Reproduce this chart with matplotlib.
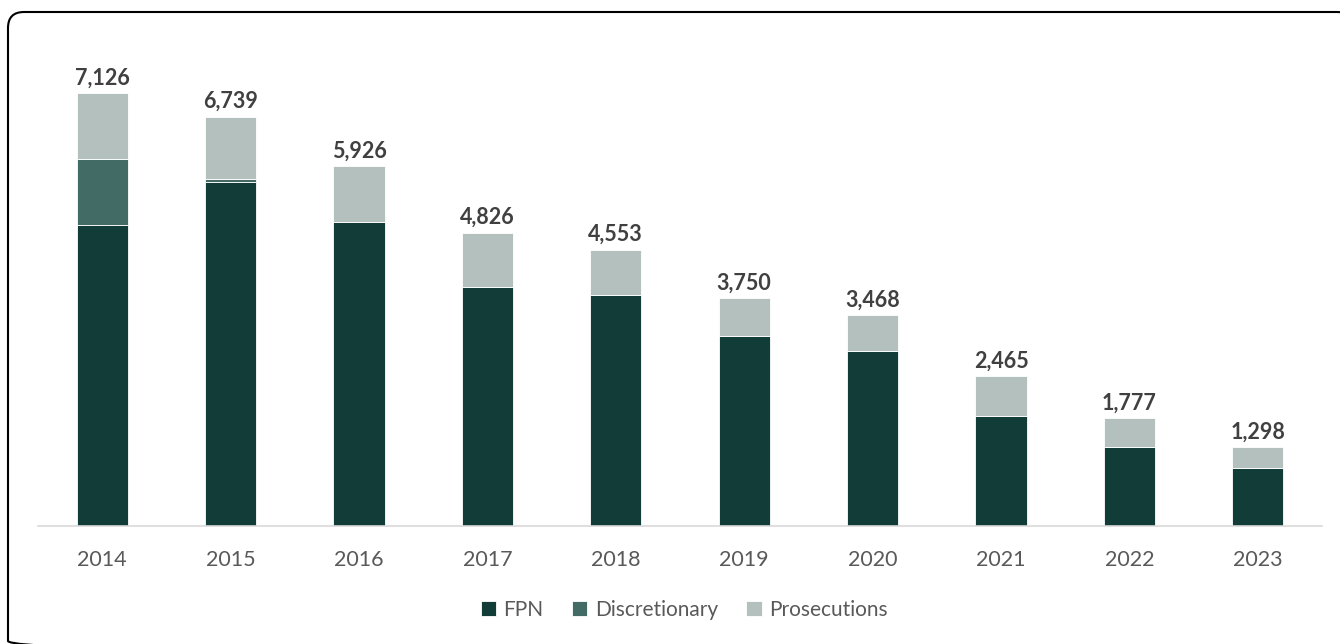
import matplotlib.pyplot as plt
from matplotlib.patches import FancyBboxPatch
import numpy as np

years = ['2014', '2015', '2016', '2017', '2018', '2019', '2020', '2021', '2022', '2023']
fpn = [4962, 5662, 5007, 3941, 3800, 3134, 2877, 1817, 1296, 955]
discretionary = [1082, 56, 0, 0, 0, 0, 0, 0, 0, 0]
prosecutions = [1082, 1021, 919, 885, 753, 616, 591, 648, 481, 343]
totals = [7126, 6739, 5926, 4826, 4553, 3750, 3468, 2465, 1777, 1298]

plt.rcParams['font.family'] = ['Lato', 'DejaVu Sans']

fig = plt.figure(figsize=(13.4, 6.44), dpi=100)
ax = fig.add_axes([38 / 1340, 1 - 526 / 644, 1284 / 1340, 450 / 644])

x = np.arange(len(years))
w = 0.4
c_fpn, c_disc, c_pros = '#113c37', '#436b66', '#b3c0be'
fpn = np.array(fpn)
disc = np.array(discretionary)
pros = np.array(prosecutions)

ax.bar(x, fpn, w, color=c_fpn, edgecolor='white', linewidth=0.6, label='FPN')
ax.bar(x, disc, w, bottom=fpn, color=c_disc, edgecolor='white', linewidth=0.6, label='Discretionary')
ax.bar(x, pros, w, bottom=fpn + disc, color=c_pros, edgecolor='white', linewidth=0.6, label='Prosecutions')

for xi, t in zip(x, totals):
    ax.text(xi, t + 80, f'{t:,}', ha='center', va='bottom', fontsize=15.5,
            fontweight='bold', color='#404040')

ax.set_xlim(-0.5, 9.5)
ax.set_ylim(0, 7126 * 450 / 432.7)
ax.set_xticks(x)
ax.set_xticklabels(years, fontsize=15.5, color='#595959')
ax.tick_params(axis='x', length=0, pad=17)
ax.set_yticks([])
for s in ['top', 'right', 'left']:
    ax.spines[s].set_visible(False)
ax.spines['bottom'].set_color('#d9d9d9')
ax.spines['bottom'].set_linewidth(1.2)

leg = fig.legend(loc='center', bbox_to_anchor=(684 / 1340, 1 - 610 / 644), ncol=3,
                 frameon=False, fontsize=15, handlelength=0.75, handleheight=0.75,
                 handletextpad=0.35, columnspacing=1.35)
for t in leg.get_texts():
    t.set_color('#595959')

# rounded frame, drawn in pixel units on an overlay axes
frame_ax = fig.add_axes([0, 0, 1, 1], zorder=-1)
frame_ax.set_xlim(0, 1340)
frame_ax.set_ylim(644, 0)
frame_ax.axis('off')
frame_ax.add_patch(FancyBboxPatch((8, 12), 1345, 645,
                                  boxstyle='round,pad=0,rounding_size=16',
                                  fill=False, edgecolor='black', linewidth=1.5))

fig.savefig('out.png', dpi=100)
